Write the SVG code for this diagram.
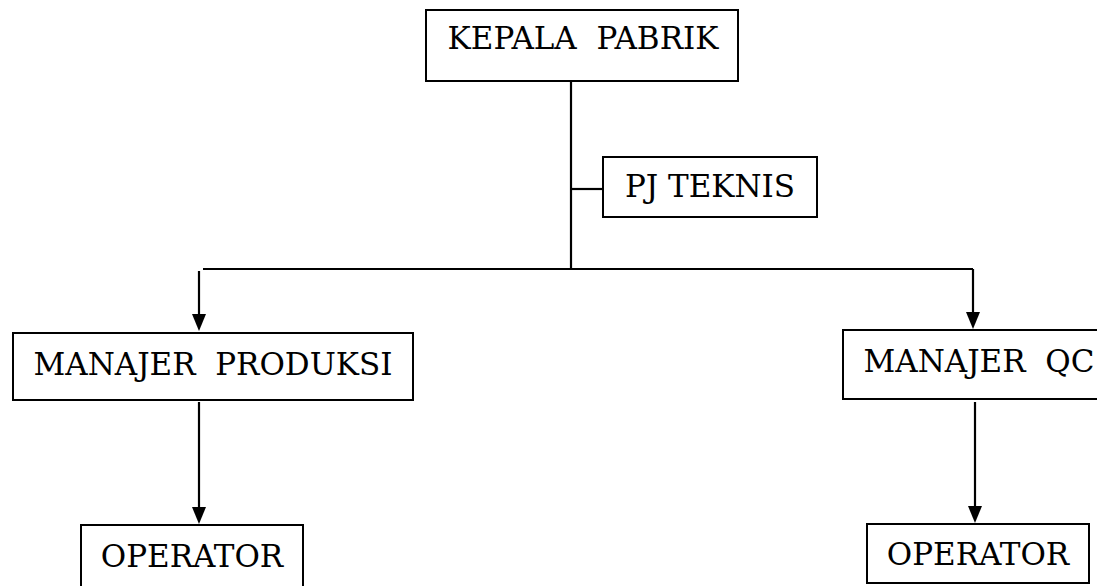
<svg xmlns="http://www.w3.org/2000/svg" width="1097" height="586" viewBox="0 0 1097 586">
<style>
.box{fill:#fff;stroke:#000;stroke-width:2}
.lbl{font-family:"DejaVu Serif","Liberation Serif",serif;font-size:31px;fill:#000;text-anchor:middle;white-space:pre}
.ln{stroke:#000;stroke-width:2.2;fill:none}
</style>
<defs>
<marker id="arr" markerWidth="17" markerHeight="14" refX="7" refY="7" orient="auto" markerUnits="userSpaceOnUse" viewBox="0 0 17 14">
<path d="M0,0 L17,7 L0,14 Z" fill="#000"/>
</marker>
</defs>
<rect width="1097" height="586" fill="#fff"/>
<g id="connectors">
<line class="ln" x1="571" y1="81" x2="571" y2="269"/>
<line class="ln" x1="571" y1="189" x2="603" y2="189"/>
<line class="ln" x1="203" y1="269" x2="973" y2="269"/>
<line class="ln" x1="199" y1="271" x2="199" y2="321" marker-end="url(#arr)"/>
<line class="ln" x1="973" y1="269" x2="973" y2="319" marker-end="url(#arr)"/>
<line class="ln" x1="199" y1="402" x2="199" y2="514" marker-end="url(#arr)"/>
<line class="ln" x1="975" y1="402" x2="975" y2="513" marker-end="url(#arr)"/>
</g>
<g id="kepala">
<rect class="box" x="426" y="10" width="312" height="71"/>
<text class="lbl" x="583" y="49">KEPALA  PABRIK</text>
</g>
<g id="pjteknis">
<rect class="box" x="603" y="157" width="214" height="60"/>
<text class="lbl" x="710" y="197">PJ TEKNIS</text>
</g>
<g id="manajer-produksi">
<rect class="box" x="13" y="333" width="400" height="67"/>
<text class="lbl" x="213" y="375">MANAJER  PRODUKSI</text>
</g>
<g id="manajer-qc">
<rect class="box" x="843" y="330" width="260" height="69"/>
<text class="lbl" x="979" y="372">MANAJER  QC</text>
</g>
<g id="operator-1">
<rect class="box" x="81" y="525" width="222" height="64"/>
<text class="lbl" x="192" y="567">OPERATOR</text>
</g>
<g id="operator-2">
<rect class="box" x="867" y="524" width="222" height="59"/>
<text class="lbl" x="978" y="565">OPERATOR</text>
</g>
</svg>
